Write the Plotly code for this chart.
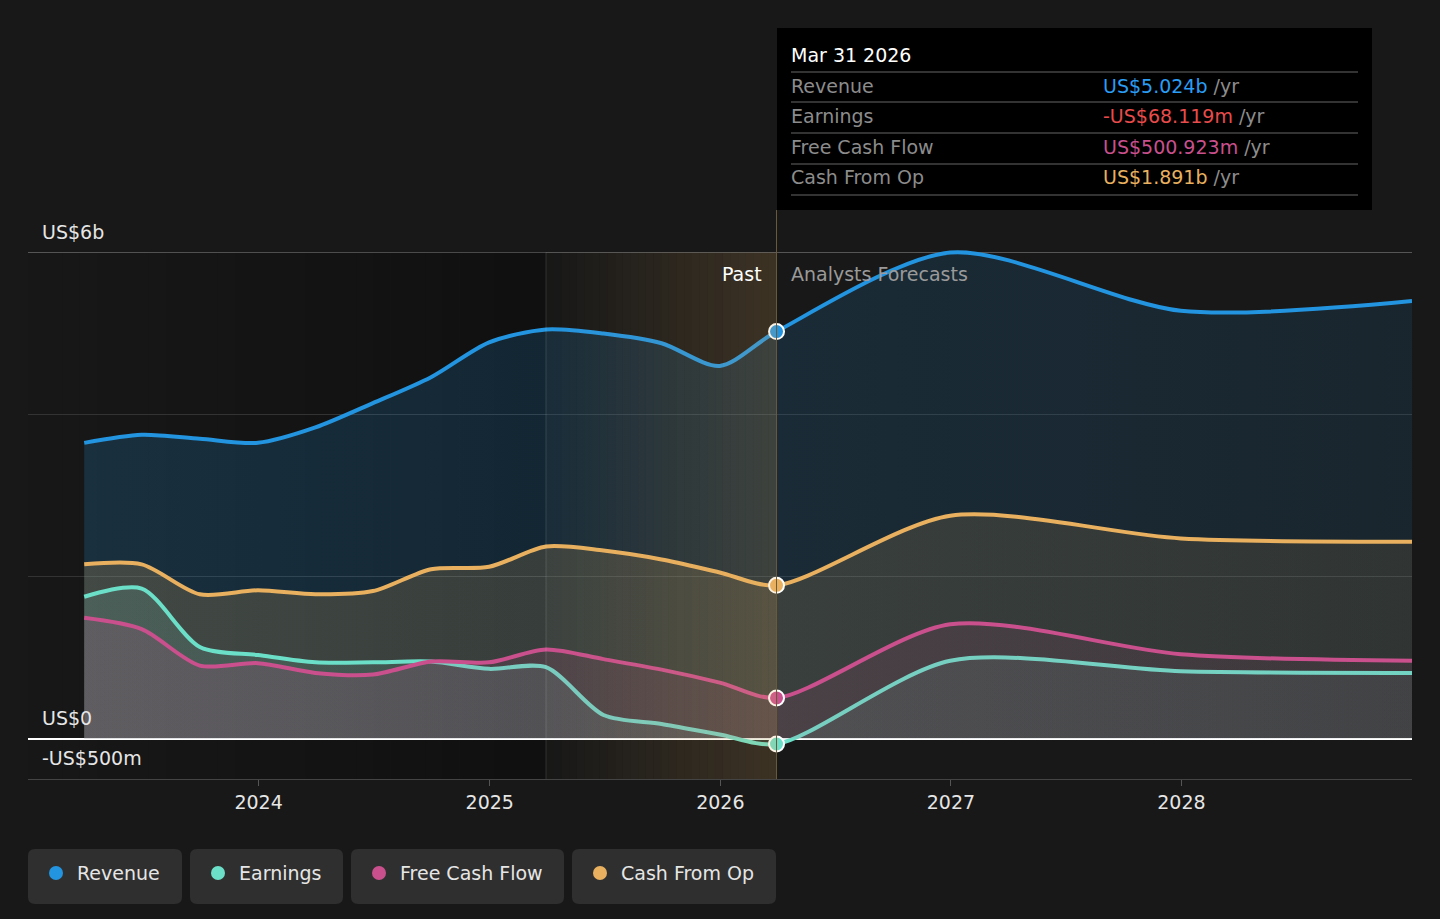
import pandas as pd
import plotly.graph_objects as go

# quarterly history up to Mar 2026, then analyst forecasts (US$ billions)
dates = ["2023-03-31", "2023-06-30", "2023-09-30", "2023-12-31",
         "2024-03-31", "2024-06-30", "2024-09-30", "2024-12-31",
         "2025-03-31", "2025-06-30", "2025-09-30", "2025-12-31",
         "2026-03-31", "2026-12-31", "2027-12-31", "2028-12-31"]
revenue = [3.65, 3.75, 3.70, 3.65, 3.84, 4.14, 4.46, 4.89,
           5.05, 5.00, 4.88, 4.60, 5.024, 6.00, 5.28, 5.40]
earnings = [1.75, 1.85, 1.13, 1.03, 0.94, 0.94, 0.95, 0.86,
            0.88, 0.29, 0.18, 0.05, -0.068119, 0.96, 0.83, 0.81]
free_cash_flow = [1.49, 1.35, 0.90, 0.93, 0.81, 0.79, 0.95, 0.94,
                  1.10, 0.98, 0.85, 0.69, 0.500923, 1.41, 1.04, 0.96]
cash_from_op = [2.15, 2.15, 1.78, 1.83, 1.78, 1.82, 2.09, 2.12,
                2.37, 2.32, 2.21, 2.05, 1.891, 2.75, 2.47, 2.43]

series_names = ["Revenue", "Earnings", "Free Cash Flow", "Cash From Op"]
y_tick_vals = [-0.5, 0, 6]
y_tick_text = ["-US$500m", "US$0", "US$6b"]
x_tick_years = [2024, 2025, 2026, 2027, 2028]

past_start = "2025-03-31"
now_date = "2026-03-31"
i_now = dates.index(now_date)

colors = {
    "Revenue": "#2394DF",
    "Earnings": "#6CDFC8",
    "Free Cash Flow": "#C9508D",
    "Cash From Op": "#E8B05F",
}
fill_rgb = {
    "Revenue": "35,148,223",
    "Earnings": "120,210,190",
    "Free Cash Flow": "201,80,141",
    "Cash From Op": "232,176,95",
}
fill_alpha = {
    "Revenue": (0.20, 0.11),
    "Earnings": (0.16, 0.08),
    "Free Cash Flow": (0.16, 0.08),
    "Cash From Op": (0.20, 0.11),
}
values = {
    "Revenue": revenue,
    "Earnings": earnings,
    "Free Cash Flow": free_cash_flow,
    "Cash From Op": cash_from_op,
}

FONT = "DejaVu Sans"
BG = "#181818"

# plot area in pixels
L, R, T, B = 28, 1412, 210, 779
PW, PH = R - L, B - T


def px(x):
    return (x - L) / PW


def py(y):
    return (B - y) / PH


def fmt_money(v):
    sign = "-" if v < 0 else ""
    a = abs(v)
    if a >= 1:
        return f"{sign}US${a:.3f}b"
    return f"{sign}US${a * 1000:.3f}m"


fig = go.Figure()

draw_order = ["Revenue", "Cash From Op", "Earnings", "Free Cash Flow"]
for name in draw_order:
    a0, a1 = fill_alpha[name]
    rgb = fill_rgb[name]
    fig.add_trace(go.Scatter(
        x=dates,
        y=values[name],
        mode="lines",
        name=name,
        line=dict(color=colors[name], width=4, shape="spline", smoothing=0.8),
        fill="tozeroy",
        fillgradient=dict(
            type="horizontal",
            colorscale=[[0, f"rgba({rgb},{a0})"], [1, f"rgba({rgb},{a1})"]],
        ),
        showlegend=False,
        hoverinfo="skip",
    ))

# current-period markers
for name in draw_order:
    fig.add_trace(go.Scatter(
        x=[dates[i_now]],
        y=[values[name][i_now]],
        mode="markers",
        marker=dict(size=15, color=colors[name], line=dict(color="white", width=2)),
        showlegend=False,
        hoverinfo="skip",
    ))

shapes = []

# darker background before the past-year highlight
t_start = pd.Timestamp("2023-01-01")
t_past = pd.Timestamp(past_start)
t_now = pd.Timestamp(now_date)
n = 30
for k in range(n):
    x0 = t_start + (t_past - t_start) * k / n
    x1 = t_start + (t_past - t_start) * (k + 1) / n
    shapes.append(dict(type="rect", xref="x", yref="y", x0=x0, x1=x1, y0=-0.5, y1=6,
                       fillcolor=f"rgba(0,0,0,{0.32 * (k + 0.5) / n:.3f})",
                       line=dict(width=0), layer="below"))

# amber highlight on the last year of history
for k in range(n):
    x0 = t_past + (t_now - t_past) * k / n
    x1 = t_past + (t_now - t_past) * (k + 1) / n
    shapes.append(dict(type="rect", xref="x", yref="y", x0=x0, x1=x1, y0=-0.5, y1=6,
                       fillcolor=f"rgba(232,176,95,{0.18 * (k + 0.5) / n:.3f})",
                       line=dict(width=0), layer="above"))

shapes.append(dict(type="line", xref="x", yref="y", x0=past_start, x1=past_start, y0=-0.5, y1=6,
                   line=dict(color="rgba(255,255,255,0.13)", width=1), layer="above"))
shapes.append(dict(type="line", xref="x", yref="paper", x0=now_date, x1=now_date, y0=0, y1=1,
                   line=dict(color="#6b5a3a", width=1), layer="above"))
shapes.append(dict(type="line", xref="paper", yref="y", x0=0, x1=1, y0=6, y1=6,
                   line=dict(color="#555555", width=1), layer="below"))

# tooltip box
shapes.append(dict(type="rect", xref="paper", yref="paper",
                   x0=px(777), x1=px(1372), y0=py(210), y1=py(28),
                   fillcolor="#000000", line=dict(width=0), layer="above"))
for yy in [72, 102, 133, 164, 195]:
    shapes.append(dict(type="line", xref="paper", yref="paper",
                       x0=px(791), x1=px(1358), y0=py(yy), y1=py(yy),
                       line=dict(color="#444444", width=1.5), layer="above"))

# legend buttons
legend_boxes = [(28, 182), (190, 343), (351, 564), (572, 776)]
by0, by1, rad = 849, 904, 7


def rounded_rect(x0, x1, y0, y1, r):
    pts = [
        f"M {px(x0 + r)},{py(y0)}",
        f"L {px(x1 - r)},{py(y0)}",
        f"Q {px(x1)},{py(y0)} {px(x1)},{py(y0 + r)}",
        f"L {px(x1)},{py(y1 - r)}",
        f"Q {px(x1)},{py(y1)} {px(x1 - r)},{py(y1)}",
        f"L {px(x0 + r)},{py(y1)}",
        f"Q {px(x0)},{py(y1)} {px(x0)},{py(y1 - r)}",
        f"L {px(x0)},{py(y0 + r)}",
        f"Q {px(x0)},{py(y0)} {px(x0 + r)},{py(y0)}",
        "Z",
    ]
    return " ".join(pts)


annotations = []
for (bx0, bx1), name in zip(legend_boxes, series_names):
    shapes.append(dict(type="path", xref="paper", yref="paper",
                       path=rounded_rect(bx0, bx1, by0, by1, rad),
                       fillcolor="#2f2f2f", line=dict(width=0), layer="above"))
    cx, cy, cr = bx0 + 28, 873, 7
    shapes.append(dict(type="circle", xref="paper", yref="paper",
                       x0=px(cx - cr), x1=px(cx + cr), y0=py(cy + cr), y1=py(cy - cr),
                       fillcolor=colors[name], line=dict(width=0), layer="above"))
    annotations.append(dict(xref="paper", yref="paper", x=px(bx0 + 47), y=py(cy),
                            xanchor="left", yanchor="middle", showarrow=False,
                            text=name, font=dict(family=FONT, size=19, color="#e6e6e6")))

# y labels sitting above their lines
for v, t in zip(y_tick_vals, y_tick_text):
    annotations.append(dict(xref="paper", yref="y", x=px(40), y=v, yshift=21,
                            xanchor="left", yanchor="middle", showarrow=False,
                            text=t, font=dict(family=FONT, size=19, color="#e6e6e6")))

annotations.append(dict(xref="paper", yref="y", x=px(764), y=6, yshift=-21,
                        xanchor="right", yanchor="middle", showarrow=False,
                        text="Past", font=dict(family=FONT, size=19, color="#ffffff")))
annotations.append(dict(xref="paper", yref="y", x=px(789), y=6, yshift=-21,
                        xanchor="left", yanchor="middle", showarrow=False,
                        text="Analysts Forecasts", font=dict(family=FONT, size=19, color="#9a9a9a")))

# tooltip texts
annotations.append(dict(xref="paper", yref="paper", x=px(789), y=py(55),
                        xanchor="left", yanchor="middle", showarrow=False,
                        text="Mar 31 2026", font=dict(family=FONT, size=19, color="#ffffff")))
tip_colors = {
    "Revenue": "#2A9DF4",
    "Earnings": "#E84B4B" if earnings[i_now] < 0 else "#6CDFC8",
    "Free Cash Flow": "#C9508D",
    "Cash From Op": "#E8B05F",
}
for name, yy in zip(series_names, [86, 116, 147, 177]):
    annotations.append(dict(xref="paper", yref="paper", x=px(789), y=py(yy),
                            xanchor="left", yanchor="middle", showarrow=False,
                            text=name, font=dict(family=FONT, size=19, color="#8c8c8c")))
    val = fmt_money(values[name][i_now])
    annotations.append(dict(xref="paper", yref="paper", x=px(1101), y=py(yy),
                            xanchor="left", yanchor="middle", showarrow=False,
                            text=f"<span style='color:{tip_colors[name]}'>{val}</span> /yr",
                            font=dict(family=FONT, size=19, color="#8c8c8c")))

fig.update_layout(
    width=1440,
    height=919,
    margin=dict(l=L, r=1440 - R, t=T, b=919 - B),
    paper_bgcolor=BG,
    plot_bgcolor=BG,
    font=dict(family=FONT, size=19, color="#e6e6e6"),
    shapes=shapes,
    annotations=annotations,
    xaxis=dict(
        type="date",
        range=["2023-01-01", "2028-12-31"],
        tickvals=[f"{y}-01-01" for y in x_tick_years],
        ticktext=[str(y) for y in x_tick_years],
        ticks="outside",
        ticklen=6,
        tickcolor="#555555",
        showgrid=False,
        showline=True,
        linecolor="#444444",
        linewidth=1,
        zeroline=False,
        tickfont=dict(family=FONT, size=19, color="#e6e6e6"),
        fixedrange=True,
    ),
    yaxis=dict(
        range=[-0.5, -0.5 + PH / 81],
        tickvals=[0, 2, 4],
        showticklabels=False,
        gridcolor="#333333",
        gridwidth=1,
        zeroline=True,
        zerolinecolor="#ffffff",
        zerolinewidth=1.5,
        fixedrange=True,
    ),
    showlegend=False,
)

fig.write_html(
    "out.html",
    config={"displayModeBar": False},
    post_script="document.body.style.margin='0';document.body.style.overflow='hidden';",
)
